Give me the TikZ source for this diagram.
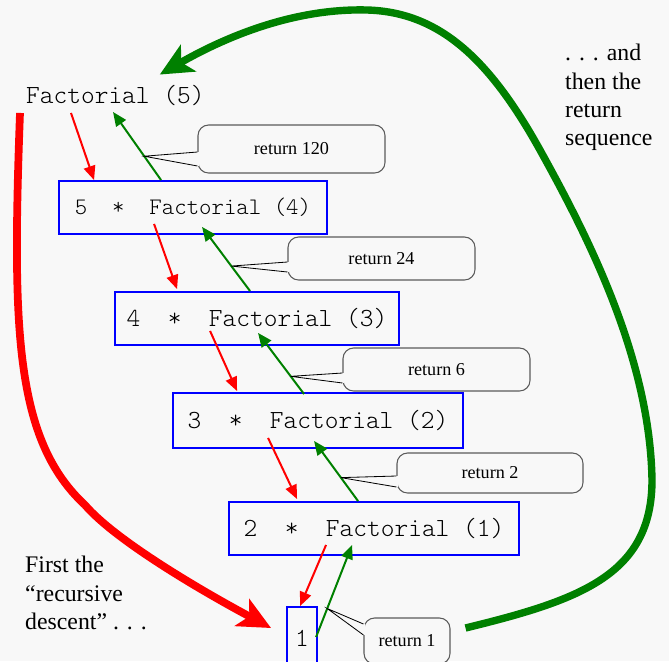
\documentclass[tikz,border=0pt]{standalone}
\usepackage{fontspec}
\setmainfont{Liberation Serif}
\setmonofont{lmmonolt10-regular}[Extension=.otf]
\usetikzlibrary{calc,arrows.meta}

\definecolor{bgcol}{RGB}{248,248,248}
\definecolor{boxblue}{RGB}{0,0,255}
\definecolor{retgreen}{RGB}{0,128,0}
\definecolor{descred}{RGB}{255,0,0}
\definecolor{callgray}{RGB}{90,90,90}

\newlength{\px}\setlength{\px}{0.03cm}

\tikzset{
	mono/.style={font=\ttfamily\fontsize{22.3}{25}\selectfont, inner sep=0pt},
	callbox/.style={mono, draw=boxblue, line width=1.6pt},
	retbox/.style={draw=callgray, line width=0.9pt, rounded corners=9pt, fill=bgcol,
		inner sep=0pt, font=\fontsize{15.5}{18}\selectfont},
	remark/.style={align=left, inner sep=0pt, font=\fontsize{20.3}{24.2}\selectfont},
	callarrow/.style={draw=descred, line width=1.7pt, -{Triangle[length=12pt,width=10pt]}},
	retarrow/.style={draw=retgreen, line width=1.7pt, -{Triangle[length=12pt,width=10pt]}},
	descent/.style={draw=descred, line width=6.6pt, -{Stealth[length=28pt,width=26pt,inset=7pt]}},
	ascent/.style={draw=retgreen, line width=6.3pt, -{Stealth[length=28pt,width=26pt,inset=7pt]}},
	ptrline/.style={draw=black, line width=0.7pt}
}

% pointer of a return callout: node, tip, upper and lower offset (px)
\newcommand{\calloutptr}[4]{%
	\fill[bgcol] ($(#1.west)+(-3,#3)$) rectangle ($(#1.west)+(2,#4)$);
	\draw[ptrline] ($(#1.west)+(0,#3)$) -- (#2) -- ($(#1.west)+(0,#4)$);}

\begin{document}
\begin{tikzpicture}[x=0.03cm, y=-0.03cm]
	% page
	\fill[bgcol] (0,0) rectangle (669,661);
	\useasboundingbox (0,0) rectangle (669,661);
	
	% the calls
	\node[mono, anchor=base west] (f5) at (26,103) {Factorial (5)};
	\node[callbox, minimum width=268\px, minimum height=53\px,
		font=\ttfamily\fontsize{20.2}{23}\selectfont] (b1) at (193,207.5) {5\ \ *\ \ Factorial (4)};
	\node[callbox, minimum width=284\px, minimum height=53\px] (b2) at (257,318.5) {4\ \ *\ \ Factorial (3)};
	\node[callbox, minimum width=290\px, minimum height=55\px] (b3) at (318,420.5) {3\ \ *\ \ Factorial (2)};
	\node[callbox, minimum width=290\px, minimum height=53\px] (b4) at (374,528.5) {2\ \ *\ \ Factorial (1)};
	\node[callbox, minimum width=30\px, minimum height=62\px] (b5) at (302,638) {1};
	
	% going down
	\draw[callarrow] ($(f5.south west)+(45,7.5)$) -- ($(b1.north west)+(36,0)$);
	\draw[callarrow] ($(b1.south west)+(96,-11)$) -- ($(b2.north west)+(63,-2)$);
	\draw[callarrow] ($(b2.south west)+(96,-15)$) -- ($(b3.north west)+(65,-1)$);
	\draw[callarrow] ($(b3.south west)+(96,-11)$) -- ($(b4.north west)+(69,-2)$);
	\draw[callarrow] ($(b4.south west)+(98,-11)$) -- ($(b5.north west)+(14,0)$);
	
	% coming back up
	\draw[retarrow] ($(b1.north west)+(103,0)$) -- coordinate[pos=0.35] (r120) ($(f5.south west)+(87,6.5)$);
	\draw[retarrow] ($(b2.north west)+(136,0)$) -- coordinate[pos=0.39] (r24) ($(b1.south west)+(144,-8)$);
	\draw[retarrow] ($(b3.north west)+(132,2)$) -- coordinate[pos=0.29] (r6) ($(b2.south west)+(144,-13)$);
	\draw[retarrow] ($(b4.north west)+(130,0)$) -- coordinate[pos=0.39] (r2) ($(b3.south west)+(142,-8)$);
	\draw[retarrow] ($(b5.north west)+(30,31)$) -- coordinate[pos=0.31] (r1) ($(b4.south west)+(124,-11)$);
	
	% return values
	\node[retbox, minimum width=187\px, minimum height=48\px] (c1) at (291.5,149) {return 120};
	\calloutptr{c1}{r120}{3}{17}
	\node[retbox, minimum width=187\px, minimum height=43\px] (c2) at (381.5,258.5) {return 24};
	\calloutptr{c2}{r24}{3.5}{13.5}
	\node[retbox, minimum width=187\px, minimum height=43\px] (c3) at (436.5,369.5) {return 6};
	\calloutptr{c3}{r6}{3.5}{13.5}
	\node[retbox, minimum width=186\px, minimum height=40\px] (c4) at (490,473) {return 2};
	\calloutptr{c4}{r2}{3}{14}
	\node[retbox, minimum width=86\px, minimum height=46\px] (c5) at (407,641) {return 1};
	\calloutptr{c5}{r1}{-17}{-6}
	
	% the two big strokes
	\draw[descent] ($(f5.south west)+(-6,7.5)$) .. controls (12,330) and (15,440) .. (85,505)
		.. controls (115,540) and (200,590) .. ($(b5.west)+(-15,-10)$);
	\draw[ascent] ($(c5.east)+(15,-13)$) .. controls (580,600) and (652,575) .. (652,480)
		.. controls (650,360) and (590,240) .. (540,150)
		.. controls (490,60) and (440,12) .. (367,10)
		.. controls (290,8) and (220,40) .. ($(f5.north east)+(-45,-10)$);
	
	% comments
	\node[remark, anchor=north west] (first) at (25,556) {First the\\“recursive\\descent” . . .};
	\node[remark, anchor=north west] (then) at (565,44) {. . . and\\then the\\return\\sequence};
\end{tikzpicture}
\end{document}
